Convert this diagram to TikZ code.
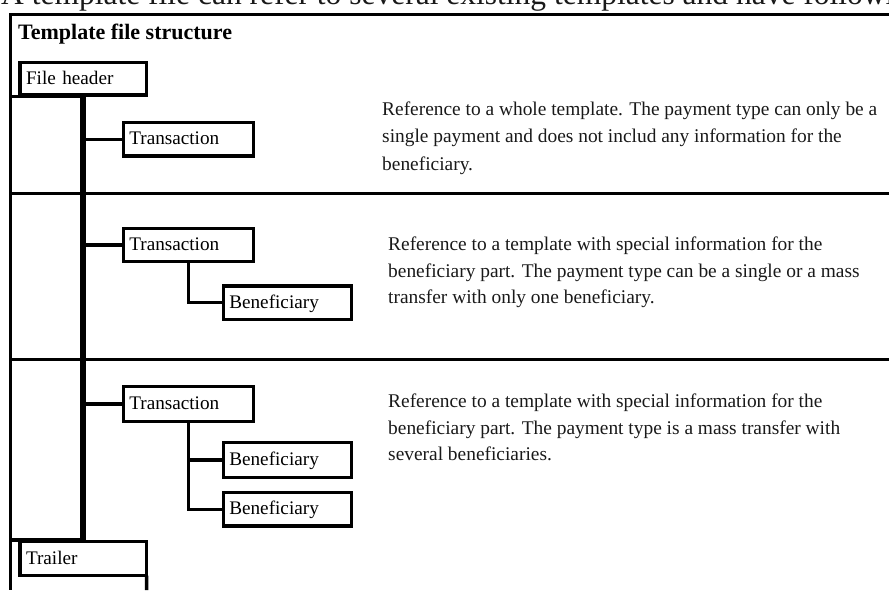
\documentclass[tikz,border=0pt]{standalone}
\usepackage{fontspec}
\setmainfont{Liberation Serif}
\begin{document}
\begin{tikzpicture}[x=1pt,y=-1pt,
  frame/.style={line width=3.6pt},
  spine/.style={line width=6pt},
  link/.style={line width=3.5pt},
  itembox/.style={draw, line width=3.5pt, anchor=north west, inner xsep=0pt, inner ysep=0pt,
    outer sep=0pt, align=left, text height=13.3pt, text depth=2.2pt,
    font=\fontsize{19.2}{22}\selectfont},
  desc/.style={anchor=north west, inner sep=0pt, align=left, text=black!90}]
\clip (0,0) rectangle (889,590);
\useasboundingbox (0,0) rectangle (889,590);
% cropped intro line
\node[anchor=base west, inner sep=0pt, font=\fontsize{31.5}{32}\selectfont, text=black!90] (intro) at (1,4)
  {A template file can refer to several existing templates and have following};
% frame
\coordinate (ftr) at (889,14.3);
\coordinate (ftl) at (10.3,14.3);
\coordinate (fbl) at (10.3,590);
\coordinate (s1l) at (10.3,193.5);
\coordinate (s1r) at (889,193.5);
\coordinate (s2l) at (10.3,359.3);
\coordinate (s2r) at (889,359.3);
\draw[frame, line join=miter] (ftr) -- (ftl) -- (fbl);
\draw[frame] (s1l) -- (s1r);
\draw[frame] (s2l) -- (s2r);
% title
\node[anchor=base west, inner sep=0pt, font=\fontsize{22}{24}\selectfont\bfseries] (title) at (18,39) {Template file structure};
% boxes
\node[itembox, minimum width=126.7pt, minimum height=32.3pt, text width=114.7pt] (fh) at (20,62.7) {File header};
\node[itembox, minimum width=126.7pt, minimum height=34pt, text width=114.7pt] (tr) at (20,541.7) {Trailer};
\node[itembox, minimum width=130pt, minimum height=33.3pt, text width=118pt] (t1) at (123.3,122.7) {Transaction};
\node[itembox, minimum width=130pt, minimum height=33.4pt, text width=118pt] (t2) at (123.3,228.3) {Transaction};
\node[itembox, minimum width=128.4pt, minimum height=33.3pt, text width=116.4pt] (b2) at (223.3,286) {Beneficiary};
\node[itembox, minimum width=130pt, minimum height=35pt, text width=118pt] (t3) at (123.3,386.7) {Transaction};
\node[itembox, minimum width=128.4pt, minimum height=35pt, text width=116.4pt] (b3a) at (223.3,442.7) {Beneficiary};
\node[itembox, minimum width=128.4pt, minimum height=33.3pt, text width=116.4pt] (b3b) at (223.3,492.7) {Beneficiary};
% cell lines beside header and trailer
\coordinate (fhl) at (10.3,96.5);
\coordinate (trl) at (10.3,540);
\coordinate (trb) at (146.7,590);
\draw[link] (fhl) -- (fhl -| fh.south);
\draw[link] (trl) -- (trl -| tr.north);
\draw[link] (tr.south east) -- (trb);
% spine and connectors
\draw[spine] (fh.south) -- (tr.north);
\draw[link] (t1.west) -- (t1.west -| fh.south);
\draw[link] (t2.west) -- (t2.west -| fh.south);
\draw[link] (t3.west) -- (t3.west -| fh.south);
\draw[link] (t2.south) |- (b2.west);
\draw[link] (t3.south) |- (b3a.west);
\draw[link] (t3.south) |- (b3b.west);
% descriptions
\node[desc, font=\fontsize{19.4}{27.5}\selectfont] (d1) at (382,101.5)
  {Reference to a whole template. The payment type can only be a\\
   single payment and does not includ any information for the\\
   beneficiary.};
\node[desc, font=\fontsize{19.4}{26.5}\selectfont] (d2) at (388,236.7)
  {Reference to a template with special information for the\\
   beneficiary part. The payment type can be a single or a mass\\
   transfer with only one beneficiary.};
\node[desc, font=\fontsize{19.4}{26.5}\selectfont] (d3) at (388,394)
  {Reference to a template with special information for the\\
   beneficiary part. The payment type is a mass transfer with\\
   several beneficiaries.};
\end{tikzpicture}
\end{document}
